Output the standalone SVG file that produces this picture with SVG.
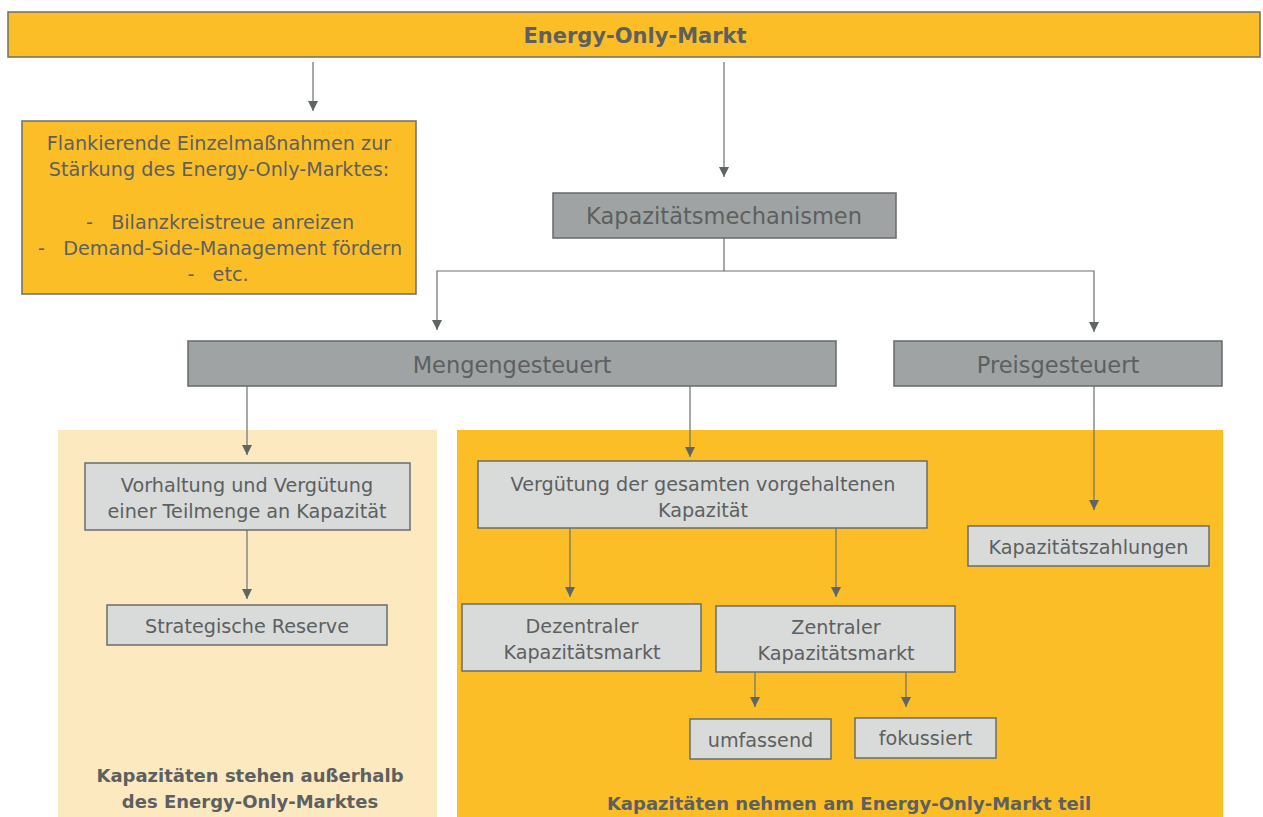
<svg xmlns="http://www.w3.org/2000/svg" width="1263" height="817" viewBox="0 0 1263 817">
<defs>
<marker id="arr" markerUnits="userSpaceOnUse" markerWidth="12" markerHeight="12" refX="10" refY="5" orient="auto">
<path d="M0,0 L10,5 L0,10 Z" fill="#5f6464"/>
</marker>
<style>
text{font-family:"DejaVu Sans","Verdana",sans-serif;fill:#5c6060;text-anchor:middle;}
.b{font-weight:bold;}
.t18{font-size:19.2px;}
.t22{font-size:22.5px;}
.orange{fill:#fcbe27;stroke:#6b6f6f;stroke-width:1.5;}
.dark{fill:#a0a3a3;stroke:#656a6a;stroke-width:1.5;}
.light{fill:#d9dbda;stroke:#686d6d;stroke-width:1.5;}
.conn path{fill:none;stroke:#6b7070;stroke-width:1.2;}
</style>
</defs>
<rect width="1263" height="817" fill="#ffffff"/>
<g id="panel-outside">
<rect x="58" y="430" width="379" height="387" fill="#fde9bf"/>
<text class="b" x="250" y="782" font-size="18">Kapazitäten stehen außerhalb</text>
<text class="b" x="250" y="808" font-size="18">des Energy-Only-Marktes</text>
</g>
<g id="panel-inside">
<rect x="457" y="430" width="766" height="387" fill="#fcbe27"/>
<text class="b" x="849" y="810" font-size="18">Kapazitäten nehmen am Energy-Only-Markt teil</text>
</g>
<g class="conn" id="connectors">
<path d="M313,62 V111" marker-end="url(#arr)"/>
<path d="M724,62 V177" marker-end="url(#arr)"/>
<path d="M724,238 V271 H437 V330" marker-end="url(#arr)"/>
<path d="M724,271 H1094 V332" marker-end="url(#arr)"/>
<path d="M247,386 V455" marker-end="url(#arr)"/>
<path d="M690,386 V457" marker-end="url(#arr)"/>
<path d="M1094,386 V510" marker-end="url(#arr)"/>
<path d="M247,530 V599" marker-end="url(#arr)"/>
<path d="M570,528 V597" marker-end="url(#arr)"/>
<path d="M836,528 V597" marker-end="url(#arr)"/>
<path d="M755,672 V707" marker-end="url(#arr)"/>
<path d="M906,672 V707" marker-end="url(#arr)"/>
</g>
<g id="energy-only-markt">
<rect class="orange" x="8" y="12" width="1252" height="45"/>
<text class="b" x="635" y="43" font-size="21">Energy-Only-Markt</text>
</g>
<g id="flankierende">
<rect class="orange" x="22" y="121" width="394" height="173"/>
<text class="t18" x="219" y="150">Flankierende Einzelmaßnahmen zur</text>
<text class="t18" x="219" y="176">Stärkung des Energy-Only-Marktes:</text>
<text class="t18" x="220" y="228.5" xml:space="preserve" style="white-space:pre">-   Bilanzkreistreue anreizen</text>
<text class="t18" x="220" y="254.5" xml:space="preserve" style="white-space:pre">-   Demand-Side-Management fördern</text>
<text class="t18" x="218" y="281" xml:space="preserve" style="white-space:pre">-   etc.</text>
</g>
<g id="kapazitaetsmechanismen">
<rect class="dark" x="553" y="193" width="343" height="45"/>
<text class="t22" x="724" y="224">Kapazitätsmechanismen</text>
</g>
<g id="mengengesteuert">
<rect class="dark" x="188" y="341" width="648" height="45"/>
<text class="t22" x="512" y="373">Mengengesteuert</text>
</g>
<g id="preisgesteuert">
<rect class="dark" x="894" y="341" width="328" height="45"/>
<text class="t22" x="1058" y="373">Preisgesteuert</text>
</g>
<g id="vorhaltung">
<rect class="light" x="85" y="463" width="325" height="67"/>
<text class="t18" x="247" y="492">Vorhaltung und Vergütung</text>
<text class="t18" x="247" y="518">einer Teilmenge an Kapazität</text>
</g>
<g id="strategische-reserve">
<rect class="light" x="107" y="605" width="280" height="40"/>
<text class="t18" x="247" y="633">Strategische Reserve</text>
</g>
<g id="verguetung">
<rect class="light" x="478" y="461" width="449" height="67"/>
<text class="t18" x="703" y="490.5">Vergütung der gesamten vorgehaltenen</text>
<text class="t18" x="703" y="516.5">Kapazität</text>
</g>
<g id="dezentraler">
<rect class="light" x="462" y="604" width="239" height="67"/>
<text class="t18" x="582" y="633">Dezentraler</text>
<text class="t18" x="582" y="659">Kapazitätsmarkt</text>
</g>
<g id="zentraler">
<rect class="light" x="716" y="606" width="239" height="66"/>
<text class="t18" x="836" y="634">Zentraler</text>
<text class="t18" x="836" y="660">Kapazitätsmarkt</text>
</g>
<g id="umfassend">
<rect class="light" x="690" y="719" width="141" height="40"/>
<text class="t18" x="760.5" y="746.5">umfassend</text>
</g>
<g id="fokussiert">
<rect class="light" x="855" y="718" width="141" height="40"/>
<text class="t18" x="925.5" y="745">fokussiert</text>
</g>
<g id="kapazitaetszahlungen">
<rect class="light" x="968" y="526" width="241" height="40"/>
<text class="t18" x="1088.5" y="554">Kapazitätszahlungen</text>
</g>
</svg>
